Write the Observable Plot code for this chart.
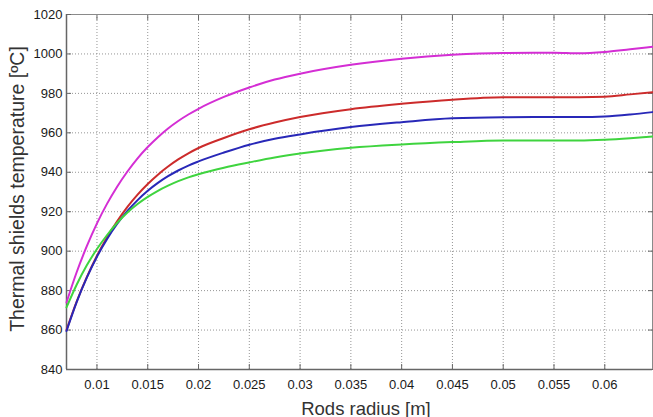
<!DOCTYPE html>
<html>
<head>
<meta charset="utf-8">
<script src="https://cdn.jsdelivr.net/npm/d3@7"></script>
<script src="https://cdn.jsdelivr.net/npm/@observablehq/plot@0.6"></script>
<style>
  html, body { margin: 0; padding: 0; background: #fff; overflow: hidden; }
  #chart svg { display: block; }
</style>
</head>
<body>
<div id="chart"></div>
<script>
// Rods radius [m] sampled along the curves
const radius = [0.007, 0.008, 0.009, 0.010, 0.011, 0.012, 0.013, 0.014, 0.015, 0.016,
  0.017, 0.018, 0.019, 0.020, 0.0225, 0.025, 0.0275, 0.030, 0.035, 0.040, 0.045,
  0.050, 0.055, 0.0575, 0.060, 0.0625, 0.0647];

// Thermal shields temperature [ºC] for each configuration
const tempCase1 = [874, 889.3, 902.5, 914.1, 924.1, 932.8, 940.4, 947.1, 952.8, 957.8,
  962.2, 966, 969.3, 972.2, 978.2, 983, 987, 990, 994.5, 997.6, 999.6,
  1000.5, 1000.6, 1000.3, 1001, 1002.4, 1003.6];
const tempCase2 = [860, 874.4, 886.8, 897.7, 907.1, 915.3, 922.5, 928.7, 934.1, 938.8,
  942.9, 946.5, 949.6, 952.3, 957.4, 961.8, 965.2, 968, 972, 974.7, 976.8,
  978, 978.1, 978.1, 978.3, 979.5, 980.6];
const tempCase3 = [859.5, 874.2, 886.6, 897.2, 906.2, 913.9, 920.4, 925.9, 930.6, 934.6,
  938, 940.9, 943.4, 945.5, 950, 954, 957, 959.2, 962.9, 965.4, 967.4,
  967.9, 968, 968, 968.3, 969.3, 970.5];
const tempCase4 = [871.5, 883, 892.8, 901.1, 908.2, 914.4, 919.6, 923.9, 927.5, 930.6,
  933.2, 935.5, 937.4, 939, 942.3, 945, 947.5, 949.5, 952.4, 954.1, 955.3,
  956.1, 956.1, 956.1, 956.5, 957.3, 958.2];

const seriesNames = ["case 1", "case 2", "case 3", "case 4"];
const seriesColors = ["#d42ed4", "#cc2b2b", "#2828b8", "#3fd43f"];

// Axis ticks
const xTicks = [0.01, 0.015, 0.02, 0.025, 0.03, 0.035, 0.04, 0.045, 0.05, 0.055, 0.06];
const yTicks = [840, 860, 880, 900, 920, 940, 960, 980, 1000, 1020];
const xDomain = [0.007, 0.0647];
const yDomain = [840, 1020];

const xLabel = "Rods radius [m]";
const yLabel = "Thermal shields temperature [ºC]";

// Long-format table for the line marks
const temps = [tempCase1, tempCase2, tempCase3, tempCase4];
const rows = seriesNames.flatMap((name, i) =>
  radius.map((r, j) => ({series: name, r, t: temps[i][j]})));

const W = 653, H = 417;
const font = "'Liberation Sans', Arial, Helvetica, sans-serif";

const chart = Plot.plot({
  width: W,
  height: H,
  marginLeft: 66,
  marginRight: 1,
  marginTop: 14,
  marginBottom: 48,
  style: {fontFamily: font, background: "#fff"},
  x: {domain: xDomain, label: null},
  y: {domain: yDomain, label: null},
  color: {domain: seriesNames, range: seriesColors},
  marks: [
    Plot.gridX(xTicks, {stroke: "#8a8a8a", strokeOpacity: 0.9, strokeDasharray: "1,2"}),
    Plot.gridY(yTicks, {stroke: "#8a8a8a", strokeOpacity: 0.9, strokeDasharray: "1,2"}),
    Plot.frame({stroke: "#8a8a8a", strokeWidth: 1}),
    Plot.ruleX([xDomain[0]], {stroke: "#666", strokeWidth: 1.5}),
    Plot.ruleY([yDomain[0]], {stroke: "#666", strokeWidth: 1.5}),
    // inward tick marks on all four sides
    Plot.axisX(xTicks, {anchor: "bottom", tickSize: -5, tickFormat: () => "", stroke: "#666"}),
    Plot.axisX(xTicks, {anchor: "top", tickSize: -5, tickFormat: () => "", stroke: "#666"}),
    Plot.axisY(yTicks, {anchor: "left", tickSize: -5, tickFormat: () => "", stroke: "#666"}),
    Plot.axisY(yTicks, {anchor: "right", tickSize: -5, tickFormat: () => "", stroke: "#666"}),
    // tick labels
    Plot.axisX(xTicks, {anchor: "bottom", tickSize: 0, tickPadding: 10,
      tickFormat: d => String(+d.toFixed(3)), fontSize: 13, fill: "#1a1a1a"}),
    Plot.axisY(yTicks, {anchor: "left", tickSize: 0, tickPadding: 4,
      tickFormat: d => String(d), fontSize: 13, fill: "#1a1a1a"}),
    Plot.line(rows, {x: "r", y: "t", z: "series", stroke: "series",
      strokeWidth: 2, curve: "monotone-x"})
  ]
});

document.getElementById("chart").appendChild(chart);

// Axis titles
const svg = d3.select(chart);
svg.append("text")
  .attr("x", 366).attr("y", 408)
  .attr("text-anchor", "middle").attr("dominant-baseline", "central")
  .style("font-family", font).style("font-size", "18.5px").style("fill", "#333")
  .text(xLabel);
svg.append("text")
  .attr("transform", "translate(17,189) rotate(-90)")
  .attr("text-anchor", "middle").attr("dominant-baseline", "central")
  .style("font-family", font).style("font-size", "19.5px").style("fill", "#333")
  .text(yLabel);
</script>
</body>
</html>
